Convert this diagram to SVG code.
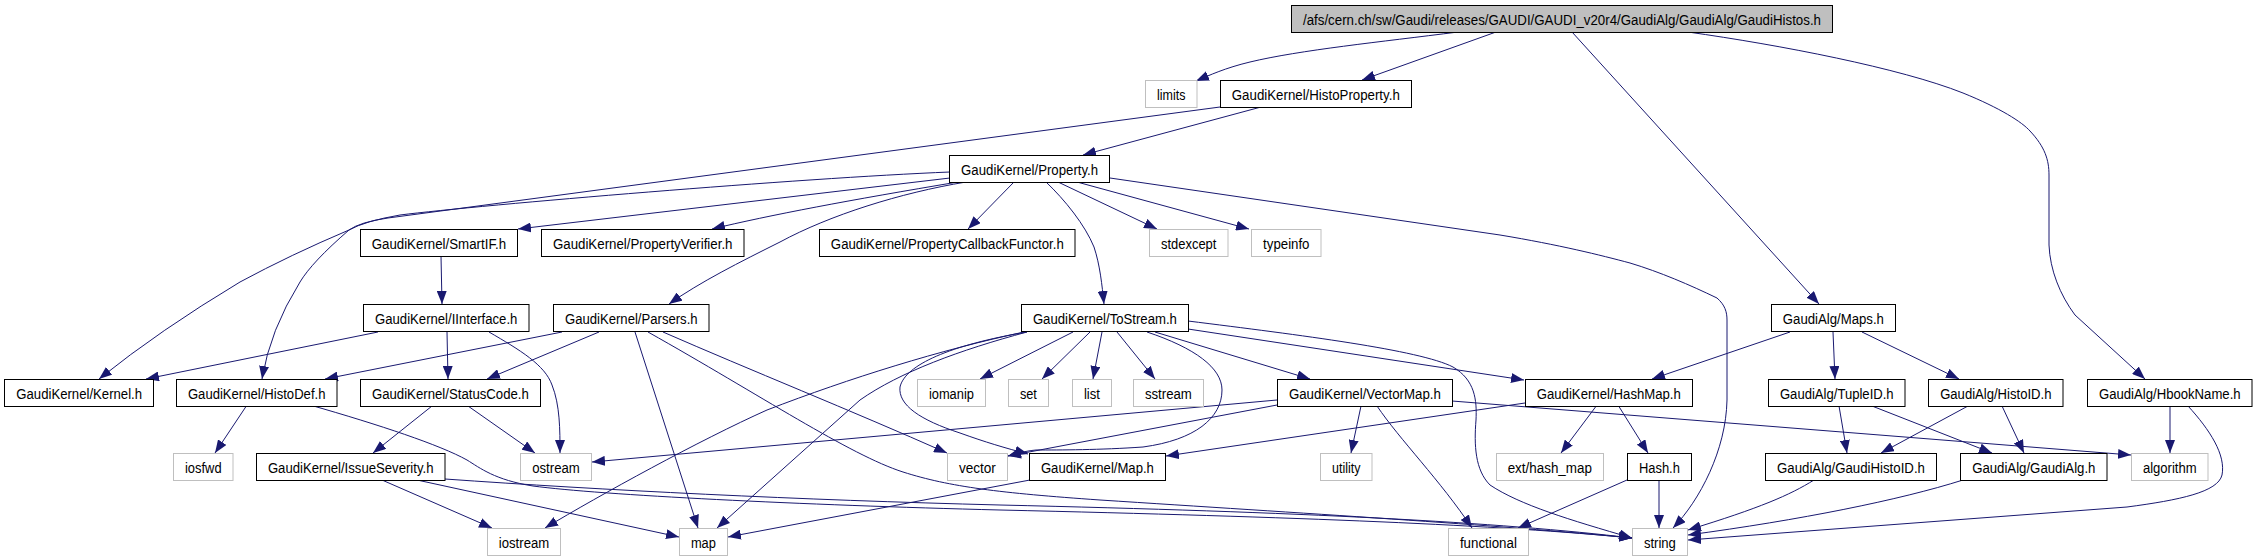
<svg xmlns="http://www.w3.org/2000/svg" width="2257" height="560" viewBox="0 0 2257 560">
<style>
.n rect{fill:#fff;stroke:#000;stroke-width:1}
.s rect{fill:#fff;stroke:#bfbfbf;stroke-width:1}
.r rect{fill:#bfbfbf;stroke:#000;stroke-width:1}
text{font-family:"Liberation Sans",Arial,sans-serif;font-size:14px;fill:#000;text-anchor:middle}
.e path{fill:none;stroke:#191970;stroke-width:1;marker-end:url(#a)}
</style>
<defs>
<marker id="a" markerUnits="userSpaceOnUse" markerWidth="13" markerHeight="10" refX="13" refY="5" orient="auto"><path d="M0,0L13,5L0,10z" fill="#191970"/></marker>
</defs>
<rect width="2257" height="560" fill="#fff"/>
<g id="edges" class="e">
<path d="M1458,32 C1380,42 1300,50 1250,62 C1225,68 1210,75 1196,81"/>
<path d="M1496,32 L1362,80"/>
<path d="M1572,32 L1819,304"/>
<path d="M1688,32 C1780,45 1900,68 1963,93 C2000,108 2022,122 2030,131 C2045,147 2049,160 2049,175 L2049,245 C2050,270 2060,295 2075,315 L2145,379"/>
<path d="M1261,107 L1083,155"/>
<path d="M1220,107 L388,218 Q360,222 349,230 Q312,262 300,282 Q270,330 262,379"/>
<path d="M950,172 C800,178 480,205 400,215 Q365,221 349,230 Q290,255 240,282 Q160,330 99,379"/>
<path d="M950,178 L518,229"/>
<path d="M958,182 C850,200 770,215 712,229"/>
<path d="M966,182 C900,193 830,215 780,242 C740,262 700,282 669,304"/>
<path d="M1014,182 L968,229"/>
<path d="M1046,182 C1065,200 1085,225 1094,247 C1100,265 1102,285 1104,304"/>
<path d="M1058,182 L1157,229"/>
<path d="M1077,182 L1249,229"/>
<path d="M1110,178 L1500,235 C1560,245 1600,255 1630,263 C1660,272 1690,285 1717,298 C1725,305 1727,312 1727,320 L1727,400 C1726,450 1700,500 1673,528"/>
<path d="M441,256 L442,304"/>
<path d="M378,332 L146,379"/>
<path d="M447,332 L448,379"/>
<path d="M489,332 C520,350 545,365 552,385 C560,405 560,430 560,453"/>
<path d="M562,332 L325,379"/>
<path d="M599,332 L487,379"/>
<path d="M635,332 L698,528"/>
<path d="M663,332 C750,370 850,410 947,453"/>
<path d="M648,332 C760,395 850,455 903,472 C950,487 1000,493 1100,500 C1300,513 1500,525 1632,538"/>
<path d="M247,405 L215,453"/>
<path d="M310,405 C380,425 440,445 467,460 C480,468 495,480 533,486 C600,495 800,505 1000,510 C1300,517 1500,525 1632,538"/>
<path d="M445,479 C600,490 800,500 1000,505 C1300,512 1500,522 1632,538"/>
<path d="M382,480 L492,528"/>
<path d="M417,480 L679,537"/>
<path d="M432,406 L373,453"/>
<path d="M468,406 L535,453"/>
<path d="M1073,332 L980,379"/>
<path d="M1090,332 L1042,379"/>
<path d="M1102,332 L1093,379"/>
<path d="M1117,332 L1155,379"/>
<path d="M1024,332 C940,350 850,378 767,410 C700,440 600,495 545,528"/>
<path d="M1027,332 C960,350 900,372 860,400 L717,528"/>
<path d="M1027,332 C950,345 905,365 900,387 C898,405 920,420 960,433 C985,442 1005,448 1028,454"/>
<path d="M1147,332 C1195,348 1222,368 1222,390 C1222,418 1195,440 1143,447 C1100,450 1060,450 1036,450 C1025,451 1015,454 1008,456"/>
<path d="M1155,332 L1310,379"/>
<path d="M1188,329 L1524,380"/>
<path d="M1188,321 C1300,335 1420,350 1453,367 C1475,380 1477,400 1476,420 C1474,445 1475,470 1490,485 C1520,505 1570,520 1632,538"/>
<path d="M1277,400 L592,462"/>
<path d="M1277,405 L1008,456"/>
<path d="M1361,406 L1351,453"/>
<path d="M1377,406 C1400,440 1440,480 1472,528"/>
<path d="M1452,401 L2131,455"/>
<path d="M1790,332 L1652,379"/>
<path d="M1833,332 L1835,379"/>
<path d="M1862,332 L1959,379"/>
<path d="M1525,403 L1166,456"/>
<path d="M1597,405 L1561,453"/>
<path d="M1618,405 L1648,453"/>
<path d="M1659,480 L1659,528"/>
<path d="M1627,480 L1518,528"/>
<path d="M1030,480 L728,537"/>
<path d="M1839,406 L1847,453"/>
<path d="M1872,406 L1992,453"/>
<path d="M1968,406 L1881,453"/>
<path d="M2002,406 L2024,453"/>
<path d="M2170,406 L2170,453"/>
<path d="M2188,406 C2210,430 2226,455 2222,475 C2218,492 2180,500 2127,507 L1688,540"/>
<path d="M1814,480 C1790,495 1760,508 1688,530"/>
<path d="M1963,480 C1900,500 1800,520 1688,535"/>
</g>
<g id="root" class="r"><rect x="1291.5" y="5.5" width="541" height="27"/><text x="1562" y="24.8" textLength="518" lengthAdjust="spacingAndGlyphs">/afs/cern.ch/sw/Gaudi/releases/GAUDI/GAUDI_v20r4/GaudiAlg/GaudiAlg/GaudiHistos.h</text></g>
<g id="limits" class="s"><rect x="1145.5" y="80.5" width="51.5" height="27"/><text x="1171.2" y="99.8" textLength="28.4" lengthAdjust="spacingAndGlyphs">limits</text></g>
<g id="HistoProperty" class="n"><rect x="1220.5" y="80.5" width="191" height="27"/><text x="1315.8" y="99.8" textLength="168" lengthAdjust="spacingAndGlyphs">GaudiKernel/HistoProperty.h</text></g>
<g id="Property" class="n"><rect x="949.5" y="155.5" width="160" height="27"/><text x="1029.6" y="174.8" textLength="137" lengthAdjust="spacingAndGlyphs">GaudiKernel/Property.h</text></g>
<g id="SmartIF" class="n"><rect x="360.5" y="229.5" width="157" height="27"/><text x="438.9" y="248.8" textLength="134.5" lengthAdjust="spacingAndGlyphs">GaudiKernel/SmartIF.h</text></g>
<g id="PropertyVerifier" class="n"><rect x="541.5" y="229.5" width="202.5" height="27"/><text x="642.7" y="248.8" textLength="179.6" lengthAdjust="spacingAndGlyphs">GaudiKernel/PropertyVerifier.h</text></g>
<g id="PropertyCallbackFunctor" class="n"><rect x="819.5" y="229.5" width="255.5" height="27"/><text x="947.3" y="248.8" textLength="232.9" lengthAdjust="spacingAndGlyphs">GaudiKernel/PropertyCallbackFunctor.h</text></g>
<g id="stdexcept" class="s"><rect x="1149.5" y="229.5" width="78.5" height="27"/><text x="1188.7" y="248.8" textLength="55.5" lengthAdjust="spacingAndGlyphs">stdexcept</text></g>
<g id="typeinfo" class="s"><rect x="1251.5" y="229.5" width="69.5" height="27"/><text x="1286.3" y="248.8" textLength="46.4" lengthAdjust="spacingAndGlyphs">typeinfo</text></g>
<g id="IInterface" class="n"><rect x="363.5" y="304.5" width="165.5" height="27"/><text x="446.2" y="323.8" textLength="142.3" lengthAdjust="spacingAndGlyphs">GaudiKernel/IInterface.h</text></g>
<g id="Parsers" class="n"><rect x="553.5" y="304.5" width="155.5" height="27"/><text x="631.3" y="323.8" textLength="132.6" lengthAdjust="spacingAndGlyphs">GaudiKernel/Parsers.h</text></g>
<g id="ToStream" class="n"><rect x="1021.5" y="304.5" width="167" height="27"/><text x="1104.9" y="323.8" textLength="144" lengthAdjust="spacingAndGlyphs">GaudiKernel/ToStream.h</text></g>
<g id="Maps" class="n"><rect x="1771.5" y="304.5" width="124" height="27"/><text x="1833.4" y="323.8" textLength="101.1" lengthAdjust="spacingAndGlyphs">GaudiAlg/Maps.h</text></g>
<g id="Kernel" class="n"><rect x="4.5" y="379.5" width="149" height="27"/><text x="79.2" y="398.8" textLength="125.8" lengthAdjust="spacingAndGlyphs">GaudiKernel/Kernel.h</text></g>
<g id="HistoDef" class="n"><rect x="176.5" y="379.5" width="160.5" height="27"/><text x="256.7" y="398.8" textLength="137.5" lengthAdjust="spacingAndGlyphs">GaudiKernel/HistoDef.h</text></g>
<g id="StatusCode" class="n"><rect x="360.5" y="379.5" width="180" height="27"/><text x="450.4" y="398.8" textLength="157" lengthAdjust="spacingAndGlyphs">GaudiKernel/StatusCode.h</text></g>
<g id="iomanip" class="s"><rect x="917.5" y="379.5" width="68" height="27"/><text x="951.4" y="398.8" textLength="45" lengthAdjust="spacingAndGlyphs">iomanip</text></g>
<g id="set" class="s"><rect x="1008.5" y="379.5" width="40" height="27"/><text x="1028.4" y="398.8" textLength="17" lengthAdjust="spacingAndGlyphs">set</text></g>
<g id="list" class="s"><rect x="1072.5" y="379.5" width="39" height="27"/><text x="1091.9" y="398.8" textLength="16" lengthAdjust="spacingAndGlyphs">list</text></g>
<g id="sstream" class="s"><rect x="1133.5" y="379.5" width="70" height="27"/><text x="1168.4" y="398.8" textLength="47" lengthAdjust="spacingAndGlyphs">sstream</text></g>
<g id="VectorMap" class="n"><rect x="1277.5" y="379.5" width="175" height="27"/><text x="1364.9" y="398.8" textLength="152" lengthAdjust="spacingAndGlyphs">GaudiKernel/VectorMap.h</text></g>
<g id="HashMap" class="n"><rect x="1525.5" y="379.5" width="167" height="27"/><text x="1608.8" y="398.8" textLength="144.1" lengthAdjust="spacingAndGlyphs">GaudiKernel/HashMap.h</text></g>
<g id="TupleID" class="n"><rect x="1768.5" y="379.5" width="136.5" height="27"/><text x="1836.8" y="398.8" textLength="113.7" lengthAdjust="spacingAndGlyphs">GaudiAlg/TupleID.h</text></g>
<g id="HistoID" class="n"><rect x="1928.5" y="379.5" width="134.5" height="27"/><text x="1995.8" y="398.8" textLength="111.3" lengthAdjust="spacingAndGlyphs">GaudiAlg/HistoID.h</text></g>
<g id="HbookName" class="n"><rect x="2087.5" y="379.5" width="164.5" height="27"/><text x="2169.8" y="398.8" textLength="141.7" lengthAdjust="spacingAndGlyphs">GaudiAlg/HbookName.h</text></g>
<g id="iosfwd" class="s"><rect x="173.5" y="453.5" width="59.5" height="27"/><text x="203.3" y="472.8" textLength="36.6" lengthAdjust="spacingAndGlyphs">iosfwd</text></g>
<g id="IssueSeverity" class="n"><rect x="256.5" y="453.5" width="188.5" height="27"/><text x="350.7" y="472.8" textLength="165.6" lengthAdjust="spacingAndGlyphs">GaudiKernel/IssueSeverity.h</text></g>
<g id="ostream" class="s"><rect x="520.5" y="453.5" width="71" height="27"/><text x="556" y="472.8" textLength="47.6" lengthAdjust="spacingAndGlyphs">ostream</text></g>
<g id="vector" class="s"><rect x="947.5" y="453.5" width="60" height="27"/><text x="977.4" y="472.8" textLength="37" lengthAdjust="spacingAndGlyphs">vector</text></g>
<g id="Map" class="n"><rect x="1029.5" y="453.5" width="136" height="27"/><text x="1097.4" y="472.8" textLength="113" lengthAdjust="spacingAndGlyphs">GaudiKernel/Map.h</text></g>
<g id="utility" class="s"><rect x="1320.5" y="453.5" width="51.5" height="27"/><text x="1346.2" y="472.8" textLength="28.4" lengthAdjust="spacingAndGlyphs">utility</text></g>
<g id="ext_hash_map" class="s"><rect x="1496.5" y="453.5" width="107" height="27"/><text x="1549.8" y="472.8" textLength="84.3" lengthAdjust="spacingAndGlyphs">ext/hash_map</text></g>
<g id="Hash" class="n"><rect x="1627.5" y="453.5" width="64" height="27"/><text x="1659.4" y="472.8" textLength="41" lengthAdjust="spacingAndGlyphs">Hash.h</text></g>
<g id="GaudiHistoID" class="n"><rect x="1765.5" y="453.5" width="171" height="27"/><text x="1851" y="472.8" textLength="147.9" lengthAdjust="spacingAndGlyphs">GaudiAlg/GaudiHistoID.h</text></g>
<g id="GaudiAlg" class="n"><rect x="1960.5" y="453.5" width="146.5" height="27"/><text x="2033.8" y="472.8" textLength="123.3" lengthAdjust="spacingAndGlyphs">GaudiAlg/GaudiAlg.h</text></g>
<g id="algorithm" class="s"><rect x="2131.5" y="453.5" width="76.5" height="27"/><text x="2169.8" y="472.8" textLength="53.7" lengthAdjust="spacingAndGlyphs">algorithm</text></g>
<g id="iostream" class="s"><rect x="487.5" y="528.5" width="73" height="27"/><text x="524" y="547.8" textLength="50.4" lengthAdjust="spacingAndGlyphs">iostream</text></g>
<g id="map" class="s"><rect x="679.5" y="528.5" width="48" height="27"/><text x="703.4" y="547.8" textLength="25" lengthAdjust="spacingAndGlyphs">map</text></g>
<g id="functional" class="s"><rect x="1448.5" y="528.5" width="80" height="27"/><text x="1488.4" y="547.8" textLength="57" lengthAdjust="spacingAndGlyphs">functional</text></g>
<g id="string" class="s"><rect x="1632.5" y="528.5" width="55" height="27"/><text x="1659.9" y="547.8" textLength="32" lengthAdjust="spacingAndGlyphs">string</text></g>
</svg>
